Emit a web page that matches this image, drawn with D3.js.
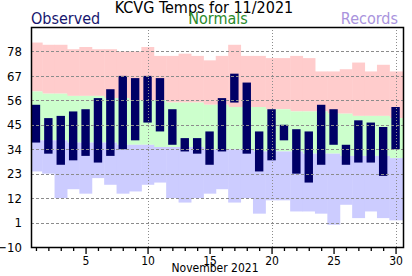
<!DOCTYPE html>
<meta charset="utf-8">
<script src="https://d3js.org/d3.v7.min.js"></script>
<style>
  body { margin: 0; background: #fff; }
  svg text { font-family: "DejaVu Sans Condensed", "DejaVu Sans", sans-serif; font-stretch: condensed; }
</style>
<div id="chart"></div>
<script>

  // daily values for November 2021 (deg F)
  const days = [1, 2, 3, 4, 5, 6, 7, 8, 9, 10, 11, 12, 13, 14, 15,
    16, 17, 18, 19, 20, 21, 22, 23, 24, 25, 26, 27, 28, 29, 30];
  const obsHigh = [54, 48, 49, 51, 52, 57, 61, 67, 66, 67, 66, 52, 39, 39, 42,
    57, 68, 64, 42, 52, 45, 43, 42, 54, 52, 36, 47, 46, 44, 53];
  const obsLow = [37, 32, 27, 29, 31, 28, 31, 34, 38, 46, 42, 36, 33, 32, 27,
    33, 55, 32, 24, 29, 38, 23, 19, 27, 36, 27, 28, 28, 22, 34];
  const normHigh = [60, 59, 59, 58, 58, 58, 57, 57, 56, 56, 56, 55, 55, 55, 54,
    54, 53, 53, 53, 52, 52, 51, 51, 51, 50, 50, 49, 49, 49, 48];
  const normLow = [38, 38, 38, 37, 37, 37, 37, 36, 36, 36, 35, 35, 35, 35, 34,
    34, 34, 34, 33, 33, 33, 33, 32, 32, 32, 31, 31, 31, 31, 30];
  const recHigh = [82, 81, 81, 79, 80, 79, 79, 78, 78, 80, 76, 76, 77, 76, 74,
    76, 81, 76, 76, 75, 75, 76, 75, 69, 69, 70, 73, 69, 72, 69];
  const recLow = [24, 23, 12, 16, 14, 21, 18, 14, 15, 18, 19, 12, 10, 12, 14,
    16, 10, 12, 5, 11, 11, 6, 6, 5, 0, 9, 3, 6, 3, 2];
  const yTicks = [-10, 1, 12, 23, 34, 45, 56, 67, 78];

  const W = 412, H = 276;
  const margin = { top: 27, right: 9, bottom: 29, left: 31 },
    width = W - margin.left - margin.right,
    height = H - margin.top - margin.bottom;

  const svg = d3.select("#chart")
    .append("svg")
    .attr("width", W)
    .attr("height", H);

  const g = svg.append("g")
    .attr("transform", `translate(${margin.left},${margin.top})`);

  const x = d3.scaleLinear().domain([0.6, 30.6]).range([0, width]);
  const y = d3.scaleLinear().domain([-10, 89]).range([height, 0]);

  g.append("clipPath").attr("id", "plotclip")
    .append("rect").attr("width", width).attr("height", height);

  const plot = g.append("g").attr("clip-path", "url(#plotclip)");

  const data = days.map((d, i) => ({
    day: d, hi: obsHigh[i], lo: obsLow[i],
    nh: normHigh[i], nl: normLow[i], rh: recHigh[i], rl: recLow[i]
  }));

  // band edges, last day stretched to the frame
  const left = d => x(d.day - 0.5);
  const bw = d => (d.day === 30 ? width : x(d.day + 0.5)) - x(d.day - 0.5) + 0.5;

  // record high band
  plot.selectAll(".rh").data(data).join("rect")
    .attr("x", left).attr("width", bw)
    .attr("y", d => y(d.rh)).attr("height", d => y(d.nh) - y(d.rh))
    .attr("fill", "#ffcccc");
  // normals band
  plot.selectAll(".nb").data(data).join("rect")
    .attr("x", left).attr("width", bw)
    .attr("y", d => y(d.nh)).attr("height", d => y(d.nl) - y(d.nh))
    .attr("fill", "#ccffcc");
  // record low band
  plot.selectAll(".rl").data(data).join("rect")
    .attr("x", left).attr("width", bw)
    .attr("y", d => y(d.nl)).attr("height", d => y(d.rl) - y(d.nl))
    .attr("fill", "#ccccff");

  // observed bars
  const barW = 8.4;
  plot.selectAll(".bar").data(data).join("rect")
    .attr("x", d => x(d.day) - barW / 2).attr("width", barW)
    .attr("y", d => y(d.hi)).attr("height", d => y(d.lo) - y(d.hi))
    .attr("fill", "#000066");

  // grid lines on top
  plot.selectAll(".hgrid").data(yTicks.filter(t => t > -10)).join("line")
    .attr("x1", 0).attr("x2", width)
    .attr("y1", d => Math.round(y(d)) + 0.5).attr("y2", d => Math.round(y(d)) + 0.5)
    .attr("stroke", "#8c8c8c").attr("stroke-dasharray", "3,2");
  plot.selectAll(".vgrid").data([10, 20, 30]).join("line")
    .attr("x1", d => Math.round(x(d)) + 0.5).attr("x2", d => Math.round(x(d)) + 0.5)
    .attr("y1", 0).attr("y2", height)
    .attr("stroke", "#8c8c8c").attr("stroke-dasharray", "1,2");

  // frame
  g.append("rect")
    .attr("x", 0.5).attr("y", 0.5)
    .attr("width", width).attr("height", height)
    .attr("fill", "none").attr("stroke", "#000").attr("stroke-width", 1.5);

  // x axis
  const xAxis = g.append("g")
    .attr("transform", `translate(0,${height})`)
    .call(d3.axisBottom(x).tickValues(days).tickSize(4).tickSizeOuter(0)
      .tickFormat(d => d % 5 === 0 ? d : ""));
  xAxis.select(".domain").remove();
  xAxis.selectAll(".tick line").attr("stroke", "#000").attr("stroke-width", 1.3)
    .attr("y2", d => d % 5 === 0 ? 7 : 4);
  xAxis.selectAll(".tick text")
    .attr("y", 9).attr("font-size", 12).attr("fill", "#000");

  // y axis
  const yAxis = g.append("g")
    .call(d3.axisLeft(y).tickValues(yTicks).tickSize(0).tickPadding(9));
  yAxis.select(".domain").remove();
  yAxis.selectAll(".tick text").attr("font-size", 13).attr("fill", "#000");

  // texts
  svg.append("text")
    .attr("x", 204).attr("y", 13)
    .attr("text-anchor", "middle")
    .attr("font-size", 16)
    .attr("fill", "#000")
    .text("KCVG Temps for 11/2021");
  svg.append("text")
    .attr("x", 31).attr("y", 24)
    .attr("font-size", 16).attr("fill", "#16166e")
    .text("Observed");
  svg.append("text")
    .attr("x", 218).attr("y", 24).attr("text-anchor", "middle")
    .attr("font-size", 16).attr("fill", "#2a8a2a")
    .text("Normals");
  svg.append("text")
    .attr("x", 398).attr("y", 24).attr("text-anchor", "end")
    .attr("font-size", 16).attr("fill", "#a993dd")
    .text("Records");
  svg.append("text")
    .attr("x", 215).attr("y", 272).attr("text-anchor", "middle")
    .attr("font-size", 12).attr("fill", "#000")
    .text("November 2021");

</script>
